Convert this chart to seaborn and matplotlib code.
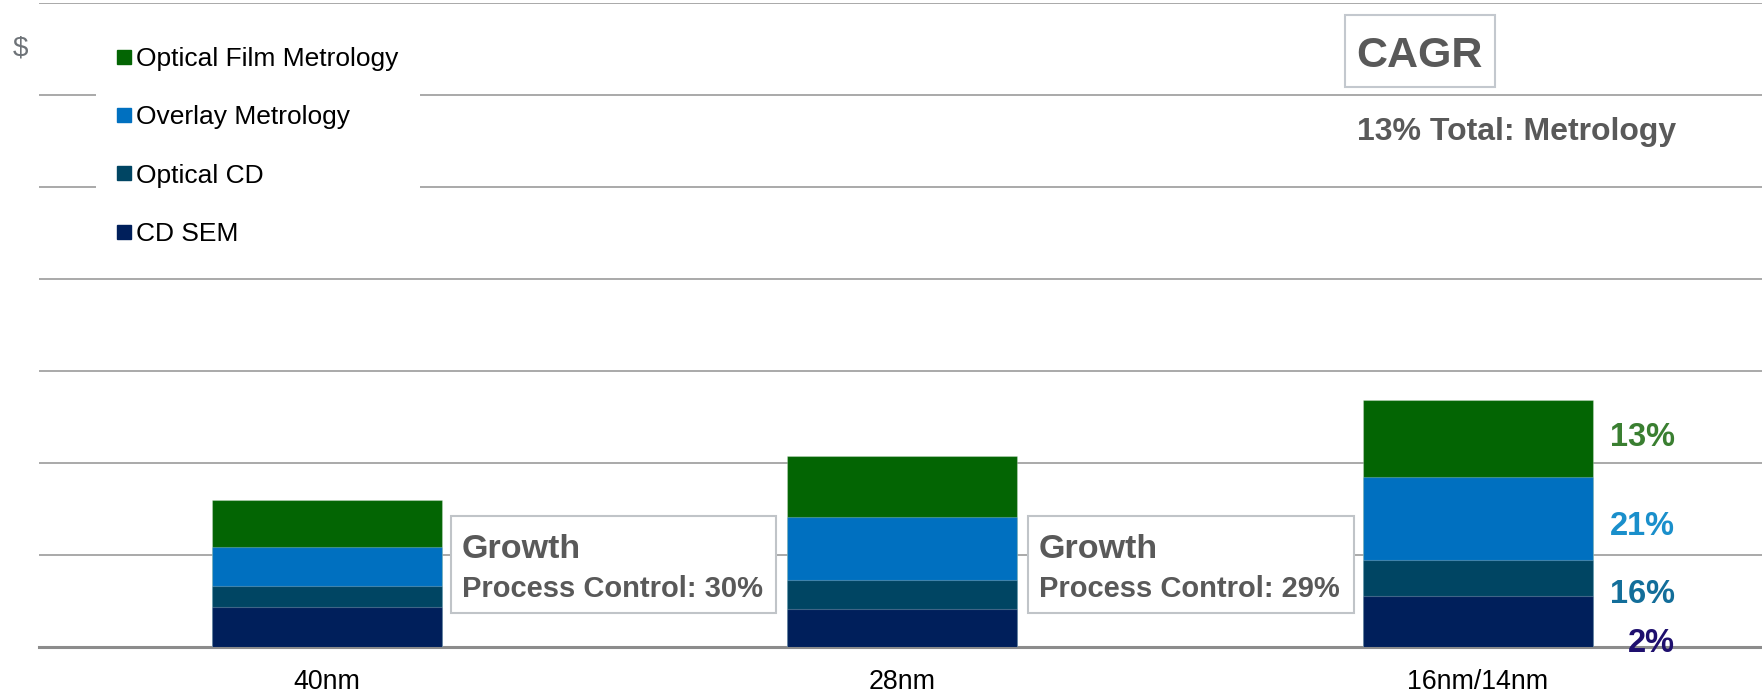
import matplotlib
matplotlib.use("Agg")
import matplotlib.pyplot as plt
from matplotlib.lines import Line2D
from matplotlib.patches import Rectangle
import numpy as np
import pandas as pd
import seaborn as sns

# данные
nodes = ['40nm', '28nm', '16nm/14nm']
cd_sem = [0.44, 0.41, 0.55]
optical_cd = [0.22, 0.32, 0.40]
overlay = [0.43, 0.68, 0.90]
film = [0.51, 0.67, 0.84]

series_names = ['CD SEM', 'Optical CD', 'Overlay Metrology', 'Optical Film Metrology']
series_colors = ['#001F5B', '#004563', '#0070C0', '#036503']

cagr_labels = ['13%', '21%', '16%', '2%']
cagr_colors = ['#3A7F31', '#1A8FCB', '#136E9A', '#1E0F6E']
growth_labels = ['Process Control: 30%', 'Process Control: 29%']
total_label = '13% Total: Metrology'

W, H = 1762, 692
sns.set_style('white')
plt.rcParams['font.family'] = ['Liberation Sans', 'DejaVu Sans']
plt.rcParams['text.color'] = 'black'
grey_text = '#595959'

df = pd.DataFrame({'node': nodes, 'CD SEM': cd_sem, 'Optical CD': optical_cd,
                   'Overlay Metrology': overlay, 'Optical Film Metrology': film})
cum = df[series_names].cumsum(axis=1)
cum['node'] = df['node']

fig = plt.figure(figsize=(W / 100, H / 100 + 0.001), dpi=100)
ax = fig.add_axes([39.3 / W, 45 / H, 1726 / W, 643.6 / H])

# stacked bars: draw cumulative totals from the top layer down
for name, color in zip(series_names[::-1], series_colors[::-1]):
    sns.barplot(data=cum, x='node', y=name, color=color, saturation=1,
                width=0.4, errorbar=None, ax=ax, zorder=3,
                edgecolor=(1, 1, 1, 0.25), linewidth=0.8)

ax.set_xlim(-0.5, 2.5)
ax.set_ylim(0, 7)
ax.set_yticks(np.arange(1, 8))
ax.set_yticklabels([])
ax.tick_params(axis='y', length=0)
ax.set_axisbelow(True)
ax.yaxis.grid(True, color='#A3A3A3', linewidth=1.3)
ax.xaxis.grid(False)
for s in ['left', 'right', 'top']:
    ax.spines[s].set_visible(False)
ax.spines['bottom'].set_color('#8C8C8C')
ax.spines['bottom'].set_linewidth(2.2)
ax.set_xlabel('')
ax.set_ylabel('')

ax.set_xticks([-0.5, 0.5, 1.5, 2.5], minor=True)
ax.tick_params(axis='x', which='minor', length=6.5, width=1.5, color='#8C8C8C', direction='out')
ax.tick_params(axis='x', which='major', length=0, pad=16, labelsize=19.3, labelcolor='black')

# legend
handles = [Line2D([], [], marker='s', linestyle='', markersize=9.6, color=c)
           for c in series_colors[::-1]]
leg = fig.legend(handles, series_names[::-1], loc='upper left',
                 bbox_to_anchor=(95.5 / W, 1 - 26 / H), bbox_transform=fig.transFigure,
                 frameon=True, facecolor='white', edgecolor='none', framealpha=1,
                 fontsize=19, borderpad=0.8, handlelength=0.55, handletextpad=0.2,
                 labelspacing=1.3, borderaxespad=0, fancybox=False)
for t in leg.get_texts():
    t.set_color('black')

fig.text(12.7 / W, 1 - 55 / H, '$', fontsize=20, color='#6E7378', va='baseline')

# CAGR box
fig.patches.append(Rectangle((1345.3 / W, 1 - 87.3 / H), 149.7 / W, 72.3 / H,
                             transform=fig.transFigure, facecolor='white',
                             edgecolor='#C3C8CE', linewidth=1.5))
fig.text(1356 / W, 1 - 66.7 / H, 'CAGR', fontsize=31, fontweight='bold',
         color=grey_text, va='baseline')
fig.text(1357 / W, 1 - 140 / H, total_label, fontsize=23, fontweight='bold',
         color=grey_text, va='baseline')

# growth boxes between categories
for x0, lab in zip([0.215, 1.2186], growth_labels):
    ax.add_patch(Rectangle((x0, 0.37), 0.566, 1.05, facecolor='white',
                           edgecolor='#C0C4C8', linewidth=1.5, zorder=4))
    ax.text(x0 + 0.019, (647 - 558.3) / 92, 'Growth', fontsize=24.5,
            fontweight='bold', color=grey_text, va='baseline', zorder=5)
    ax.text(x0 + 0.019, (647 - 596.5) / 92, lab, fontsize=21,
            fontweight='bold', color=grey_text, va='baseline', zorder=5)

# CAGR per segment, right of last bar
cagr_y = [2.187, 1.217, 0.481, -0.051]
for lab, col, y in zip(cagr_labels, cagr_colors, cagr_y):
    ax.text(2.343, y, lab, fontsize=23.5, fontweight='bold', color=col,
            ha='right', va='baseline', clip_on=False, zorder=6)

fig.savefig('out.png', dpi=100)
